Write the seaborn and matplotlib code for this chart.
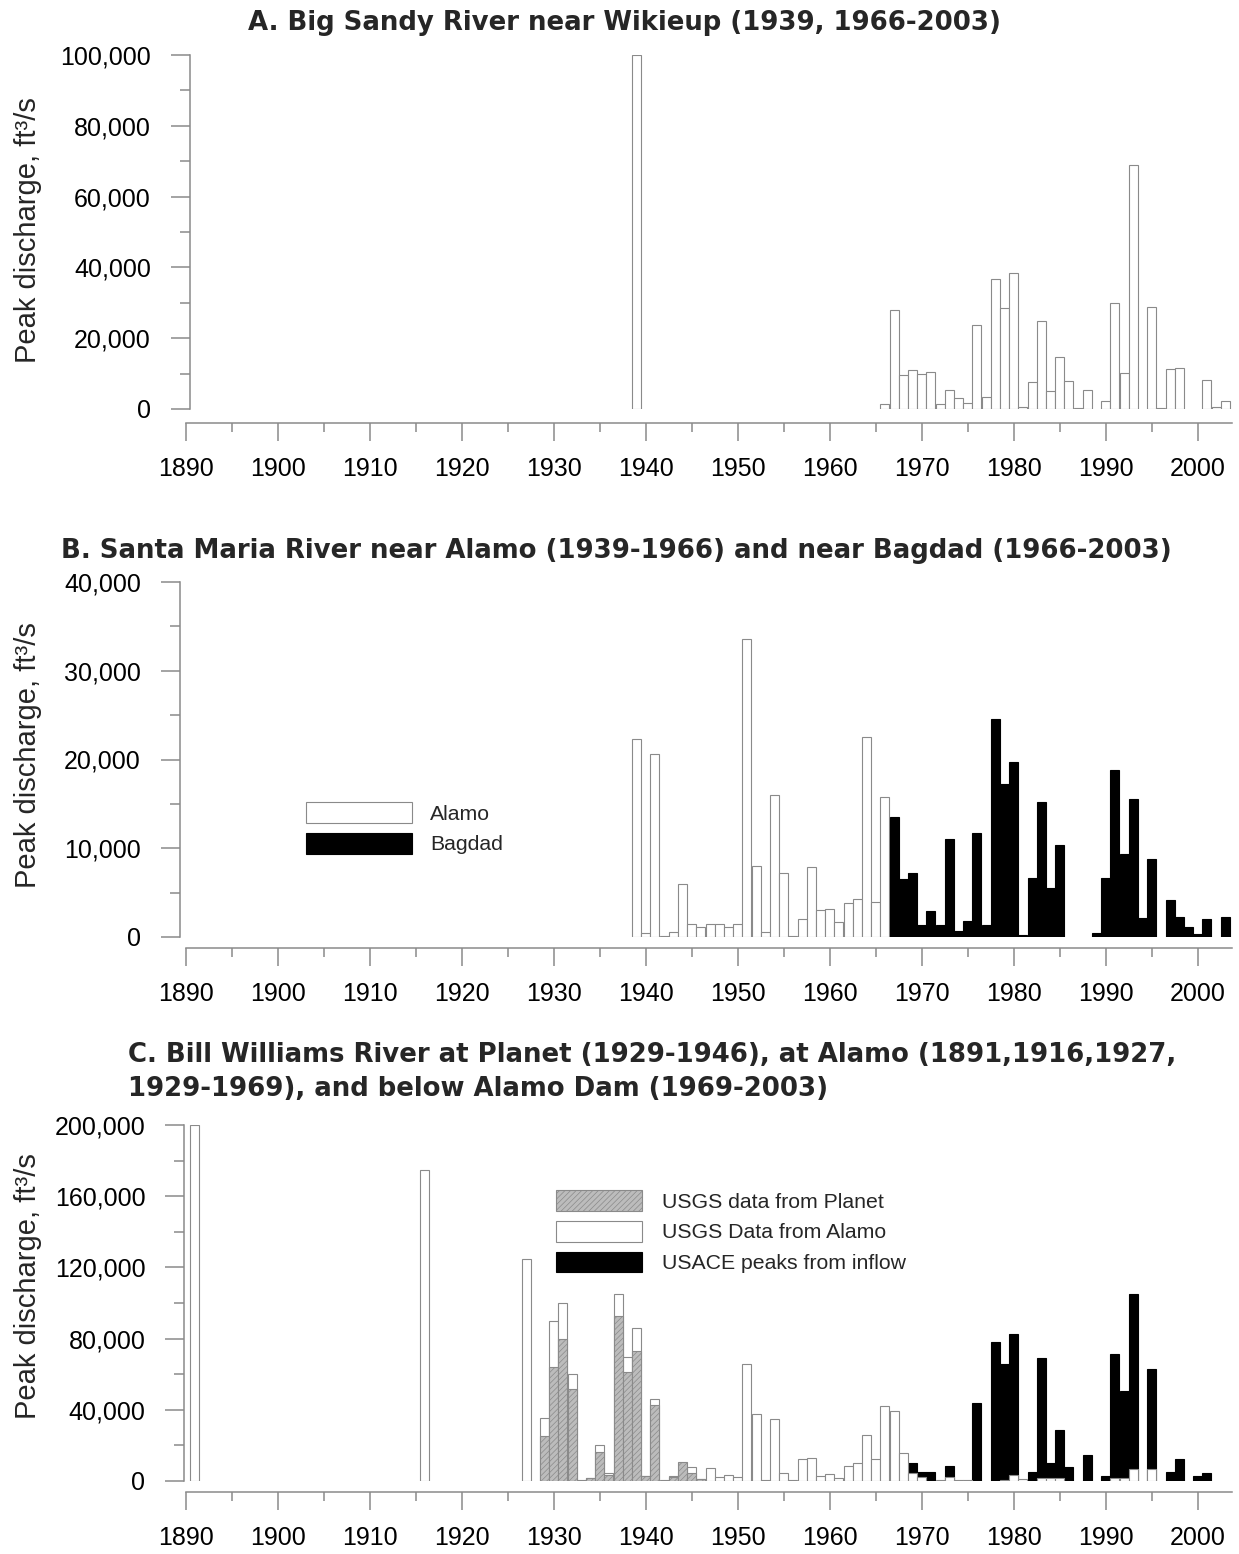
import matplotlib
matplotlib.use("Agg")
import matplotlib.pyplot as plt
import seaborn as sns
from matplotlib.patches import Patch
from matplotlib.ticker import MultipleLocator, StrMethodFormatter

# ---------------- data (peak discharge, ft3/s) ----------------
# A. Big Sandy River near Wikieup
a_years = [1939, 1966, 1967, 1968, 1969, 1970, 1971, 1972, 1973, 1974, 1975,
           1976, 1977, 1978, 1979, 1980, 1981, 1982, 1983, 1984, 1985, 1986,
           1987, 1988, 1990, 1991, 1992, 1993, 1995, 1996, 1997, 1998, 2001,
           2002, 2003]
a_peaks = [100000, 1400, 28000, 9600, 11000, 10000, 10400, 1400, 5400, 3200, 1800,
           23700, 3500, 36600, 28400, 38500, 500, 7500, 25000, 5000, 14600, 7900,
           400, 5400, 2200, 29900, 10300, 68900, 28900, 300, 11300, 11500, 8200,
           600, 2300]

# B. Santa Maria River near Alamo / near Bagdad
b_alamo_years = list(range(1939, 1967))
b_alamo_peaks = [22300, 400, 20600, 100, 600, 6000, 1500, 1100, 1500, 1500,
                 1100, 1500, 33600, 8000, 600, 16000, 7200, 100, 2000, 7900,
                 3000, 3200, 1700, 3800, 4300, 22500, 4000, 15800]
b_bagdad_years = [1967, 1968, 1969, 1970, 1971, 1972, 1973, 1974, 1975, 1976,
                  1977, 1978, 1979, 1980, 1981, 1982, 1983, 1984, 1985, 1989,
                  1990, 1991, 1992, 1993, 1994, 1995, 1997, 1998, 1999, 2000,
                  2001, 2003]
b_bagdad_peaks = [13500, 6500, 7200, 1350, 2900, 1300, 11000, 700, 1800, 11750,
                  1400, 24600, 17200, 19750, 200, 6700, 15200, 5500, 10400, 500,
                  6600, 18800, 9350, 15600, 2100, 8750, 4200, 2300, 1100, 350,
                  2000, 2200]

# C. Bill Williams River
c_planet_years = [1929, 1930, 1931, 1932, 1934, 1935, 1936, 1937, 1938, 1939,
                  1940, 1941, 1943, 1944, 1945, 1946]
c_planet_peaks = [25300, 64200, 80000, 51500, 1900, 16100, 3500, 92900, 61400,
                  73000, 3000, 42700, 2500, 10800, 4700, 1000]
c_alamo_years = [1891, 1916, 1927, 1929, 1930, 1931, 1932, 1933, 1934, 1935,
                 1936, 1937, 1938, 1939, 1940, 1941, 1942, 1943, 1944, 1945,
                 1946, 1947, 1948, 1949, 1950, 1951, 1952, 1953, 1954, 1955,
                 1956, 1957, 1958, 1959, 1960, 1961, 1962, 1963, 1964, 1965,
                 1966, 1967, 1968, 1969, 1970, 1972, 1973, 1974, 1975, 1979,
                 1980, 1981, 1983, 1984, 1985, 1991, 1992, 1993, 1995]
c_alamo_peaks = [200000, 175000, 125000, 35200, 90000, 100000, 60000, 600, 1900,
                 20200, 4300, 105000, 69900, 85800, 3000, 46000, 600, 3000, 5000,
                 8000, 1000, 7500, 2000, 3200, 2000, 65500, 37600, 500, 34700,
                 4700, 400, 12200, 13000, 2800, 3700, 1500, 8600, 10000, 26000,
                 12200, 42000, 39200, 15900, 4700, 2200, 400, 2200, 400, 600,
                 500, 3400, 1200, 1700, 1700, 1700, 1900, 1900, 6700, 6500]
c_usace_years = [1969, 1970, 1971, 1973, 1976, 1978, 1979, 1980, 1982, 1983,
                 1984, 1985, 1986, 1988, 1990, 1991, 1992, 1993, 1995, 1997,
                 1998, 2000, 2001]
c_usace_peaks = [10300, 5200, 5200, 8600, 43600, 78300, 65500, 82400, 5200,
                 69300, 9900, 28700, 8000, 14600, 2800, 71200, 50600, 104900,
                 62800, 4900, 12400, 2800, 4300]

titles = ["A. Big Sandy River near Wikieup (1939, 1966-2003)",
          "B. Santa Maria River near Alamo (1939-1966) and near Bagdad (1966-2003)",
          "C. Bill Williams River at Planet (1929-1946), at Alamo (1891,1916,1927,\n"
          "1929-1969), and below Alamo Dam (1969-2003)"]
ylabel = "Peak discharge, ft³/s"
legend_b = ["Alamo", "Bagdad"]
legend_c = ["USGS data from Planet", "USGS Data from Alamo", "USACE peaks from inflow"]

# ---------------- style ----------------
sns.set_style("ticks")
plt.rcParams['font.family'] = ['Liberation Sans', 'DejaVu Sans']
plt.rcParams['hatch.linewidth'] = 0.5

GRAY = "#8a8a8a"
HATCH_FACE = "#bcbcbc"
W, H = 1239, 1554
fig = plt.figure(figsize=(W / 100, H / 100), dpi=100)

X0_PX, PX_PER_YR = 185.7, 9.2
XMIN, XMAX = 1889.4, 2004.0


def xpx(year):
    return X0_PX + (year - 1890) * PX_PER_YR


def make_ax(top_px, bottom_px):
    left = xpx(XMIN) / W
    width = (xpx(XMAX) - xpx(XMIN)) / W
    return fig.add_axes([left, 1 - bottom_px / H, width, (bottom_px - top_px) / H])


def bars(ax, years, vals, face, edge, lw=0.8, hatch=None):
    sns.barplot(x=years, y=vals, native_scale=True, orient="x", width=1.0,
                color=face, saturation=1, edgecolor=edge, linewidth=lw,
                errorbar=None, hatch=hatch, ax=ax)


def style_ax(ax, ymax, ymaj, ymin, yspine_x, xoff_pt):
    ax.set_xlim(XMIN, XMAX)
    ax.set_ylim(0, ymax)
    for s in ["top", "right"]:
        ax.spines[s].set_visible(False)
    for s in ["left", "bottom"]:
        ax.spines[s].set_color(GRAY)
        ax.spines[s].set_linewidth(1.1)
    ax.spines["left"].set_position(("data", yspine_x))
    ax.spines["bottom"].set_position(("outward", xoff_pt))
    ax.spines["bottom"].set_bounds(1890, 2003.7)
    ax.xaxis.set_major_locator(MultipleLocator(10))
    ax.xaxis.set_minor_locator(MultipleLocator(5))
    ax.yaxis.set_major_locator(MultipleLocator(ymaj))
    ax.yaxis.set_minor_locator(MultipleLocator(ymin))
    ax.yaxis.set_major_formatter(StrMethodFormatter("{x:,.0f}"))
    ax.xaxis.set_major_formatter(StrMethodFormatter("{x:.0f}"))
    ax.tick_params(axis="y", which="major", length=13.7, width=1.1, color=GRAY,
                   pad=14.4, labelsize=18, labelcolor="black", left=True)
    ax.tick_params(axis="y", which="minor", length=7.2, width=1.1, color=GRAY, left=True)
    ax.tick_params(axis="x", which="major", length=12.7, width=1.1, color=GRAY,
                   pad=11.5, labelsize=18, labelcolor="black", bottom=True)
    ax.tick_params(axis="x", which="minor", length=6.7, width=1.1, color=GRAY, bottom=True)
    ax.set_xlabel("")
    ax.set_ylabel("")
    ax.patch.set_alpha(0)


LEG_KW = dict(loc="upper left", frameon=False, fontsize=15.3, handleheight=1.12,
              labelspacing=0.44, borderpad=0, borderaxespad=0)

# ---------------- Panel A ----------------
axA = make_ax(55, 409)
bars(axA, a_years, a_peaks, "white", GRAY)
style_ax(axA, 100000, 20000, 10000, 1890.47, 10.3)

# ---------------- Panel B ----------------
axB = make_ax(582, 937)
bars(axB, b_alamo_years, b_alamo_peaks, "white", GRAY)
bars(axB, b_bagdad_years, b_bagdad_peaks, "black", "black")
style_ax(axB, 40000, 10000, 5000, 1889.38, 7.9)
hb = [Patch(facecolor="white", edgecolor=GRAY, linewidth=0.8),
      Patch(facecolor="black", edgecolor="black", linewidth=0.8)]
fig.legend(hb, legend_b, bbox_to_anchor=(306 / W, 1 - 802 / H),
           handlelength=5.0, handletextpad=0.85, **LEG_KW)

# ---------------- Panel C ----------------
axC = make_ax(1125, 1481)
bars(axC, c_usace_years, c_usace_peaks, "black", "black")
bars(axC, c_alamo_years, c_alamo_peaks, "white", GRAY)
bars(axC, c_planet_years, c_planet_peaks, HATCH_FACE, GRAY, hatch="//////")
style_ax(axC, 200000, 40000, 20000, 1889.85, 7.9)
hc = [Patch(facecolor=HATCH_FACE, edgecolor=GRAY, linewidth=0.8, hatch="//////"),
      Patch(facecolor="white", edgecolor=GRAY, linewidth=0.8),
      Patch(facecolor="black", edgecolor="black", linewidth=0.8)]
fig.legend(hc, legend_c, bbox_to_anchor=(556 / W, 1 - 1190 / H),
           handlelength=4.05, handletextpad=0.94, **LEG_KW)

# ---------------- titles & y labels ----------------
TITLE_KW = dict(fontsize=18.7, fontweight="bold", family=["DejaVu Sans"])
fig.text(624 / W, 1 - 23 / H, titles[0], ha="center", va="center", **TITLE_KW)
fig.text(616 / W, 1 - 551 / H, titles[1], ha="center", va="center", **TITLE_KW)
fig.text(128 / W, 1 - 1072 / H, titles[2], ha="left", va="center",
         linespacing=1.45, **TITLE_KW)

for yc in (230, 755, 1286):
    fig.text(28 / W, 1 - yc / H, ylabel, rotation=90, ha="center", va="center",
             fontsize=21)

fig.savefig("out.png", dpi=100)
